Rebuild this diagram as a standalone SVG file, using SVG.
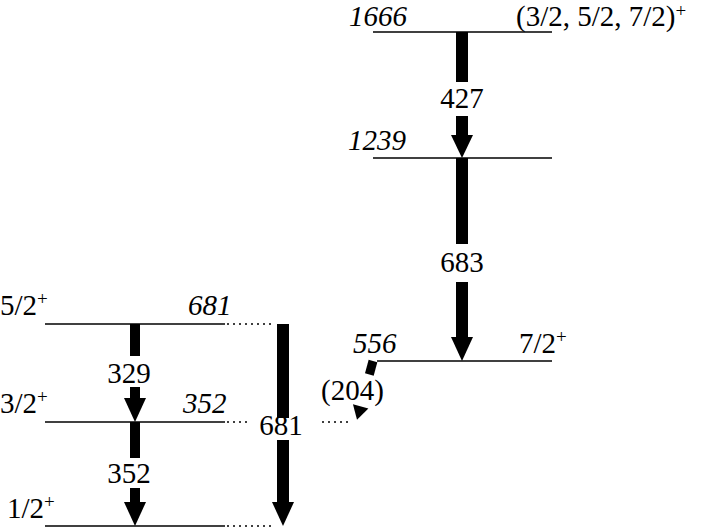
<svg xmlns="http://www.w3.org/2000/svg" width="706" height="528" viewBox="0 0 706 528">
<style>
text{font-family:'Liberation Serif',Tinos,'Times New Roman','DejaVu Serif',serif;font-size:29px;fill:#000}
.it{font-style:italic}
.sup{font-size:19px}
.mid{text-anchor:middle}
.lvl{stroke:#000;stroke-width:1.5;fill:none}
.dot{stroke:#000;stroke-width:1.5;stroke-dasharray:2 4;fill:none}
.sh{fill:#000}
</style>
<rect width="706" height="528" fill="#fff"/>
<g id="level-1666">
<line class="lvl" x1="373" y1="32" x2="552" y2="32"/>
<text class="it" x="349" y="26">1666</text>
<text x="516" y="26">(3/2, 5/2, 7/2)<tspan class="sup" dy="-9">+</tspan></text>
</g>
<g id="level-1239">
<line class="lvl" x1="373" y1="158" x2="552" y2="158"/>
<text class="it" x="348" y="150">1239</text>
</g>
<g id="level-556">
<line class="lvl" x1="377" y1="361" x2="552" y2="361"/>
<text class="it" x="353" y="353">556</text>
<text x="519" y="353">7/2<tspan class="sup" dy="-10">+</tspan></text>
</g>
<g id="level-681">
<line class="lvl" x1="45" y1="324" x2="225" y2="324"/>
<line class="dot" x1="227" y1="324" x2="275" y2="324"/>
<text x="0" y="315">5/2<tspan class="sup" dy="-10">+</tspan></text>
<text class="it" x="188" y="315">681</text>
</g>
<g id="level-352">
<line class="lvl" x1="45" y1="422" x2="225" y2="422"/>
<line class="dot" x1="227" y1="422" x2="250" y2="422"/>
<line class="dot" x1="322" y1="422" x2="352" y2="422"/>
<text x="0" y="413">3/2<tspan class="sup" dy="-10">+</tspan></text>
<text class="it" x="183" y="413">352</text>
</g>
<g id="level-0">
<line class="lvl" x1="45" y1="526" x2="225" y2="526"/>
<line class="dot" x1="227" y1="526" x2="275" y2="526"/>
<text x="7" y="518">1/2<tspan class="sup" dy="-10">+</tspan></text>
</g>
<g id="connectors">
<g id="t427">
<rect class="sh" x="456" y="32" width="12" height="50"/>
<rect class="sh" x="456" y="116" width="12" height="20"/>
<polygon class="sh" points="451,135 473,135 462,158"/>
<text class="mid" x="462" y="108">427</text>
</g>
<g id="t683">
<rect class="sh" x="456" y="158" width="12" height="86"/>
<rect class="sh" x="456" y="282" width="12" height="56"/>
<polygon class="sh" points="451,337 473,337 462,361"/>
<text class="mid" x="462" y="272">683</text>
</g>
<g id="t329">
<rect class="sh" x="130" y="324" width="10" height="32"/>
<rect class="sh" x="130" y="387" width="10" height="12"/>
<polygon class="sh" points="124,398 146,398 135,422"/>
<text class="mid" x="129" y="383">329</text>
</g>
<g id="t352">
<rect class="sh" x="130" y="422" width="10" height="36"/>
<rect class="sh" x="130" y="488" width="10" height="15"/>
<polygon class="sh" points="124,502 146,502 135,526"/>
<text class="mid" x="129" y="483">352</text>
</g>
<g id="t681">
<rect class="sh" x="277" y="324" width="12" height="94"/>
<rect class="sh" x="277" y="440" width="12" height="63"/>
<polygon class="sh" points="272,502 294,502 283,526"/>
<text class="mid" x="281" y="435">681</text>
</g>
<g id="t204" transform="translate(373,361) rotate(15.2)">
<rect class="sh" x="-4.5" y="0" width="9" height="14"/>
<polygon class="sh" points="-8,47 8,47 0,61"/>
</g>
<text x="321" y="400">(204)</text>
</g>
</svg>
